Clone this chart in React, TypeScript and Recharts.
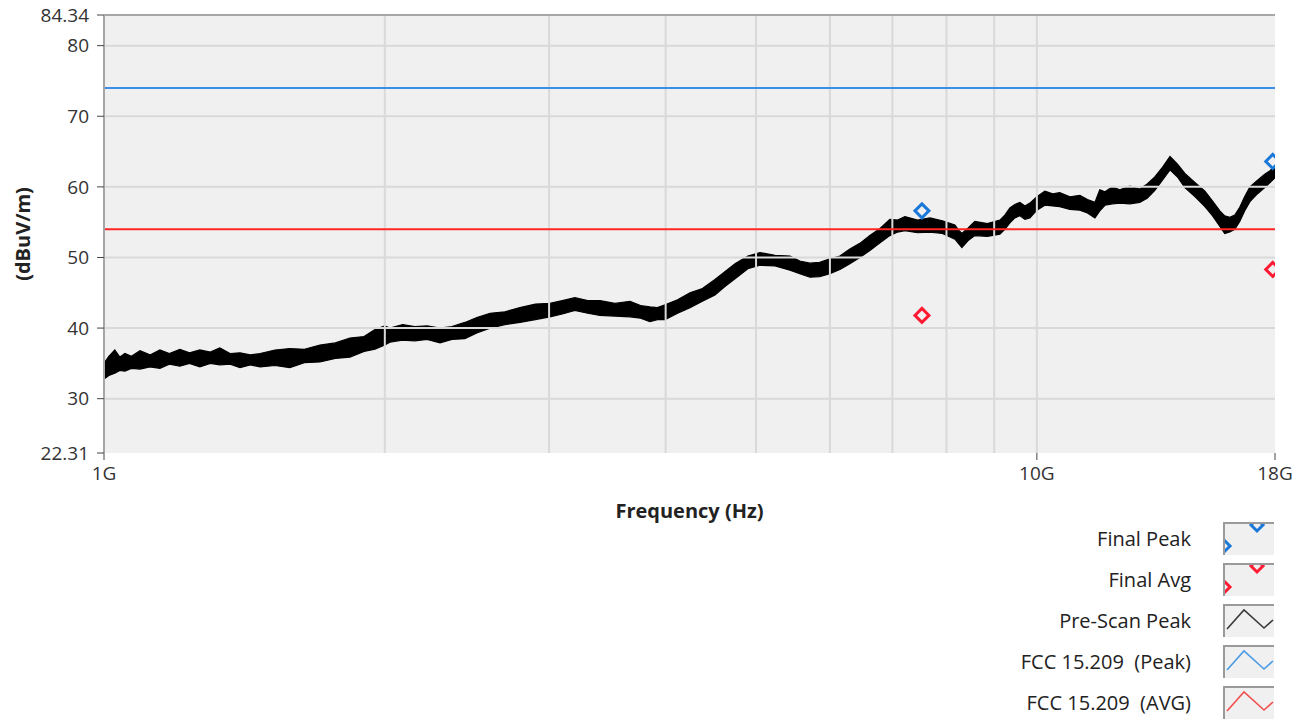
import React from "react";
import {
  ComposedChart,
  Area,
  Line,
  Scatter,
  XAxis,
  YAxis,
  CartesianGrid,
  ReferenceLine,
} from "recharts";

// pre-scan sweep, read as a low/high envelope of the noisy trace (GHz, dBuV/m)
const scanFreq = [
  1.0, 1.012, 1.027, 1.04, 1.053, 1.07, 1.093, 1.12, 1.148, 1.175, 1.206, 1.235, 1.267, 1.3,
  1.331, 1.365, 1.399, 1.435, 1.47, 1.525, 1.582, 1.64, 1.704, 1.77, 1.835, 1.9, 1.952, 2.0,
  2.025, 2.09, 2.154, 2.22, 2.292, 2.36, 2.437, 2.51, 2.593, 2.69, 2.792, 2.9, 3.006, 3.1,
  3.197, 3.3, 3.401, 3.53, 3.663, 3.76, 3.848, 3.92, 3.994, 4.12, 4.248, 4.38, 4.518, 4.63,
  4.747, 4.9, 5.049, 5.24, 5.437, 5.57, 5.711, 5.85, 6.0, 6.15, 6.303, 6.46, 6.622, 6.79,
  6.957, 7.09, 7.221, 7.45, 7.68, 7.92, 8.168, 8.24, 8.31, 8.44, 8.58, 8.85, 9.127, 9.24,
  9.356, 9.47, 9.59, 9.71, 9.829, 10.0, 10.2, 10.4, 10.58, 10.85, 11.12, 11.33, 11.54, 11.68,
  11.83, 12.05, 12.27, 12.58, 12.89, 13.13, 13.38, 13.64, 13.89, 14.15, 14.41, 14.78, 15.14,
  15.43, 15.71, 15.9, 16.1, 16.3, 16.5, 16.7, 16.92, 17.23, 17.55, 17.78, 18.0,
];
const scanLow = [
  32.8, 33.3, 33.6, 34.0, 33.9, 34.3, 34.2, 34.5, 34.3, 34.9, 34.6, 35.0, 34.5, 35.0,
  34.8, 34.9, 34.4, 34.8, 34.5, 34.7, 34.4, 35.1, 35.2, 35.7, 35.9, 36.7, 37.0, 37.6,
  38.0, 38.3, 38.2, 38.4, 37.9, 38.4, 38.5, 39.3, 40.0, 40.5, 40.8, 41.2, 41.6, 42.0,
  42.5, 42.1, 41.8, 41.7, 41.6, 41.4, 40.9, 41.2, 41.2, 42.1, 42.9, 43.8, 44.7, 45.9,
  47.0, 48.4, 48.9, 48.8, 48.2, 47.7, 47.2, 47.3, 47.7, 48.3, 49.1, 50.0, 51.0, 52.1,
  53.1, 53.6, 53.8, 53.5, 53.6, 53.4, 52.6, 52.0, 51.4, 52.4, 53.1, 53.0, 53.3, 54.0,
  54.9, 55.6, 55.9, 55.4, 55.6, 56.7, 57.4, 57.3, 57.2, 56.8, 56.7, 56.3, 55.6, 56.6,
  57.4, 57.6, 57.7, 57.6, 57.8, 58.4, 59.5, 61.0, 62.4, 61.4, 59.9, 58.6, 57.2,
  55.9, 54.4, 53.4, 53.6, 54.0, 55.1, 56.6, 57.9, 59.0, 59.9, 60.6, 61.3,
];
const scanHigh = [
  35.0, 36.0, 36.9, 35.9, 36.4, 36.0, 36.8, 36.2, 36.9, 36.4, 37.0, 36.5, 36.9, 36.6,
  37.2, 36.4, 36.5, 36.2, 36.4, 36.9, 37.1, 37.0, 37.6, 37.9, 38.6, 38.8, 39.8, 40.3,
  40.0, 40.5, 40.2, 40.3, 40.0, 40.2, 40.8, 41.5, 42.1, 42.3, 42.9, 43.4, 43.5, 43.9,
  44.3, 43.9, 43.9, 43.5, 43.8, 43.2, 43.0, 42.9, 43.3, 44.0, 45.0, 45.6, 46.9, 48.0,
  49.1, 50.2, 50.7, 50.3, 50.2, 49.5, 49.2, 49.3, 49.8, 50.2, 51.2, 52.0, 53.1, 54.1,
  55.4, 55.3, 55.8, 55.3, 55.6, 55.2, 54.6, 53.9, 53.4, 54.2, 55.1, 54.8, 55.3, 56.0,
  57.0, 57.5, 57.8, 57.3, 57.7, 58.6, 59.4, 59.0, 59.2, 58.6, 58.8, 58.2, 57.8, 59.6,
  59.3, 60.0, 59.6, 60.1, 59.7, 60.4, 61.4, 62.8, 64.3, 63.2, 61.9, 60.6, 59.4,
  58.0, 56.6, 55.9, 55.7, 56.0, 57.1, 58.6, 60.0, 60.9, 61.8, 62.3, 63.0,
];

// final measurements
const peakFreq = [7.53, 17.9];
const peakLevel = [56.6, 63.6];
const avgFreq = [7.53, 17.9];
const avgLevel = [41.8, 48.3];

// FCC 15.209 limits
const limitFreq = [1, 18];
const limitPeak = [74, 74];
const limitAvg = [54, 54];

const xTicks = [1, 10, 18];
const yTicks = [22.31, 30, 40, 50, 60, 70, 80, 84.34];
const gridFreqs = [2, 3, 4, 5, 6, 7, 8, 9, 10];
const gridLevels = [30, 40, 50, 60, 70, 80];

const legendItems = [
  { name: "Final Peak", kind: "marker", color: "#1a78d8" },
  { name: "Final Avg", kind: "marker", color: "#ff1a33" },
  { name: "Pre-Scan Peak", kind: "line", color: "#3a3a3a" },
  { name: "FCC 15.209  (Peak)", kind: "line", color: "#4a9be6" },
  { name: "FCC 15.209  (AVG)", kind: "line", color: "#f05050" },
];

const scanData = scanFreq.map((f, i) => ({ f, band: [scanLow[i], scanHigh[i]] }));
const peakData = peakFreq.map((f, i) => ({ f, v: peakLevel[i] }));
const avgData = avgFreq.map((f, i) => ({ f, v: avgLevel[i] }));
const peakLimitData = limitFreq.map((f, i) => ({ f, v: limitPeak[i] }));
const avgLimitData = limitFreq.map((f, i) => ({ f, v: limitAvg[i] }));

const FONT = "'Open Sans', 'Noto Sans', sans-serif";

const diamond = (color: string) => (props: any) => {
  const { cx, cy } = props;
  const r = 7;
  return (
    <polygon
      points={`${cx},${cy - r} ${cx + r},${cy} ${cx},${cy + r} ${cx - r},${cy}`}
      fill="none"
      stroke={color}
      strokeWidth={3}
    />
  );
};

function LegendIcon({ kind, color }: { kind: string; color: string }) {
  return (
    <svg width={51} height={33} style={{ display: "block" }}>
      <rect x={0} y={0} width={51} height={33} fill="#f0f0f0" />
      {kind === "line" ? (
        <polyline points="4,25 21,6 41,24 50,16" fill="none" stroke={color} strokeWidth={1.6} />
      ) : (
        <g fill="none" stroke={color} strokeWidth={3}>
          <polygon points="1,18 7,24 1,30 -5,24" />
          <polygon points="34,-3 40,3 34,9 28,3" />
        </g>
      )}
      <line x1={1} y1={0} x2={1} y2={33} stroke="#9a9a9a" strokeWidth={2} />
      <line x1={0} y1={1} x2={51} y2={1} stroke="#9a9a9a" strokeWidth={2} />
    </svg>
  );
}

export default function App() {
  return (
    <div
      style={{
        position: "absolute",
        left: 0,
        top: 0,
        width: 1307,
        height: 721,
        background: "#fff",
        fontFamily: FONT,
      }}
    >
      <ComposedChart
        width={1307}
        height={530}
        data={scanData}
        margin={{ top: 15, right: 32, bottom: 0, left: 0 }}
      >
        <CartesianGrid fill="#f0f0f0" stroke="none" horizontal={false} vertical={false} />
        {gridFreqs.map((f) => (
          <ReferenceLine key={`gx${f}`} x={f} stroke="#d9d9d9" strokeWidth={2} />
        ))}
        {gridLevels.map((v) => (
          <ReferenceLine key={`gy${v}`} y={v} stroke="#d9d9d9" strokeWidth={2} />
        ))}
        <ReferenceLine y={84.34} stroke="#a6a6a6" strokeWidth={2} />
        <XAxis
          dataKey="f"
          type="number"
          scale="log"
          domain={[1, 18]}
          allowDataOverflow
          ticks={xTicks}
          tickFormatter={(v: number) => `${v}G`}
          axisLine={false}
          tickLine={{ stroke: "#444" }}
          tickSize={7}
          tickMargin={7}
          height={77}
          tick={{ fontSize: 19, fill: "#333", fontFamily: FONT }}
          label={{
            value: "Frequency (Hz)",
            position: "insideBottom",
            offset: 12,
            style: { fontSize: 20, fontWeight: 700, fill: "#222", fontFamily: FONT },
          }}
        />
        <YAxis
          type="number"
          domain={[22.31, 84.34]}
          allowDataOverflow
          ticks={yTicks}
          interval={0}
          width={104}
          axisLine={{ stroke: "#a6a6a6", strokeWidth: 2 }}
          tickLine={{ stroke: "#444" }}
          tickSize={7}
          tickMargin={8}
          tick={{ fontSize: 19, fill: "#333", fontFamily: FONT }}
          label={{
            value: "(dBuV/m)",
            angle: -90,
            position: "insideLeft",
            offset: 23,
            style: { fontSize: 20, fontWeight: 700, fill: "#222", textAnchor: "middle", fontFamily: FONT },
          }}
        />
        <Line
          data={peakLimitData}
          dataKey="v"
          stroke="#3a8ee6"
          strokeWidth={2}
          dot={false}
          isAnimationActive={false}
        />
        <Line
          data={avgLimitData}
          dataKey="v"
          stroke="#ff2626"
          strokeWidth={2}
          dot={false}
          isAnimationActive={false}
        />
        <Area
          dataKey="band"
          type="linear"
          stroke="#000"
          strokeWidth={1.2}
          fill="#000"
          fillOpacity={1}
          isAnimationActive={false}
        />
        <Scatter data={peakData} dataKey="v" shape={diamond("#1a78d8")} isAnimationActive={false} />
        <Scatter data={avgData} dataKey="v" shape={diamond("#ff1a33")} isAnimationActive={false} />
      </ComposedChart>

      <div style={{ position: "absolute", left: 0, top: 522, width: 1274 }}>
        {legendItems.map((it) => (
          <div
            key={it.name}
            style={{
              display: "flex",
              justifyContent: "flex-end",
              alignItems: "center",
              height: 33,
              marginBottom: 8,
            }}
          >
            <span style={{ fontSize: 20, color: "#222", marginRight: 32, whiteSpace: "pre" }}>
              {it.name}
            </span>
            <LegendIcon kind={it.kind} color={it.color} />
          </div>
        ))}
      </div>
    </div>
  );
}
